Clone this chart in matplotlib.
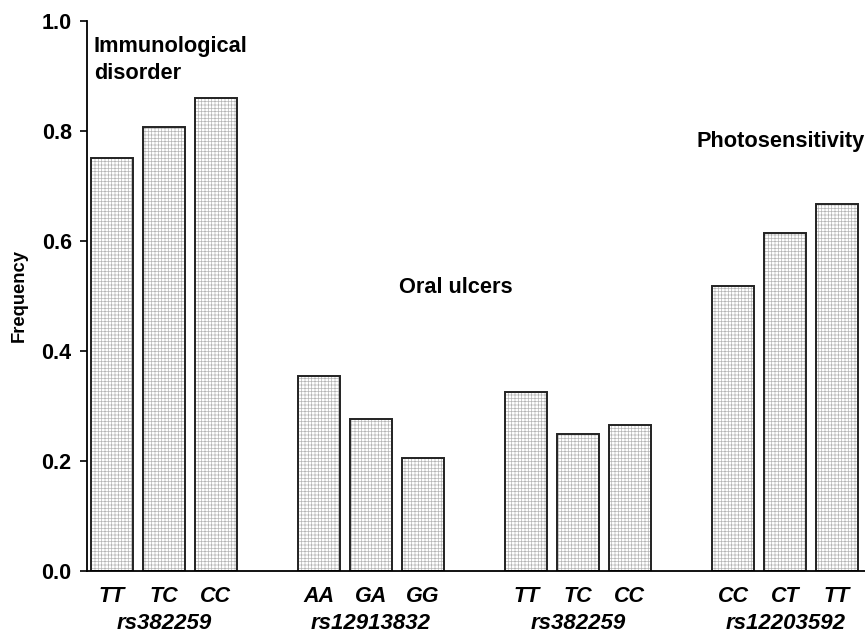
import matplotlib
matplotlib.use("Agg")
import matplotlib.pyplot as plt
from matplotlib.transforms import blended_transform_factory

plt.rcParams['font.family'] = ['Liberation Sans', 'DejaVu Sans']
plt.rcParams['hatch.linewidth'] = 0.5

genotypes = ["TT", "TC", "CC", "AA", "GA", "GG", "TT", "TC", "CC", "CC", "CT", "TT"]
values = [0.75, 0.808, 0.86, 0.354, 0.277, 0.206, 0.325, 0.249, 0.266, 0.518, 0.615, 0.668]
positions = [0, 1, 2, 4, 5, 6, 8, 9, 10, 12, 13, 14]
snps = ["rs382259", "rs12913832", "rs382259", "rs12203592"]
snp_centers = [1, 5, 9, 13]

fig = plt.figure(figsize=(8.65, 6.35), dpi=100)
ax = fig.add_axes([0.1006, 0.1008, 0.8994, 0.8662])

ax.bar(positions, values, width=0.81, color='white', edgecolor='#b5b5b5',
       hatch='+++++', linewidth=0)
ax.bar(positions, values, width=0.81, fill=False, edgecolor='#222222', linewidth=1.4)

ax.set_xlim(-0.483, 14.54)
ax.set_ylim(0, 1.0)
ax.set_yticks([0, 0.2, 0.4, 0.6, 0.8, 1.0])
ax.set_yticklabels(["0.0", "0.2", "0.4", "0.6", "0.8", "1.0"], fontsize=15.5, fontweight='bold')
ax.tick_params(axis='y', direction='out', length=5, width=1.2, pad=6)
ax.set_xticks(positions)
ax.set_xticklabels(genotypes, fontsize=15.5, fontweight='bold', style='italic')
ax.tick_params(axis='x', length=0, pad=11)
ax.spines['top'].set_visible(False)
ax.spines['right'].set_visible(False)
ax.spines['left'].set_linewidth(1.3)
ax.spines['bottom'].set_linewidth(1.3)
ax.set_ylabel("Frequency", fontsize=13.2, fontweight='bold', labelpad=10)

trans = blended_transform_factory(ax.transData, ax.transAxes)
for c, s in zip(snp_centers, snps):
    ax.text(c, -0.0956, s, transform=trans, ha='center', va='center',
            fontsize=16, fontweight='bold', style='italic')

fs = 15.7
ax.text(-0.35, 0.944, "Immunological", fontsize=fs, fontweight='bold', ha='left', va='baseline')
ax.text(-0.35, 0.895, "disorder", fontsize=fs, fontweight='bold', ha='left', va='baseline')
ax.text(5.54, 0.506, "Oral ulcers", fontsize=fs, fontweight='bold', ha='left', va='baseline')
ax.text(11.29, 0.770, "Photosensitivity", fontsize=fs, fontweight='bold', ha='left', va='baseline')

fig.savefig("out.png", dpi=100)
